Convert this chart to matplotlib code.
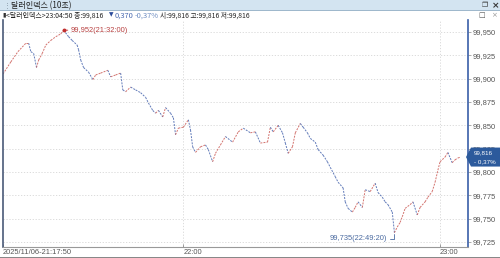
import matplotlib
matplotlib.use("Agg")
import matplotlib.pyplot as plt
from matplotlib.patches import Rectangle, Polygon
import pandas as pd

plt.rcParams['font.family'] = ['Noto Sans CJK KR', 'DejaVu Sans']

# 10초 달러인덱스 (읽어낸 주요 지점)
times = ["21:17:50", "21:19:40", "21:21:20", "21:23:10", "21:23:50", "21:24:20", "21:25:00",
         "21:25:40", "21:26:10", "21:27:00", "21:27:50", "21:29:00", "21:30:10", "21:31:20",
         "21:32:00", "21:33:10", "21:34:00", "21:35:10", "21:35:30", "21:36:00", "21:36:40",
         "21:37:50", "21:38:50", "21:39:30", "21:40:40", "21:42:20", "21:43:00", "21:44:10",
         "21:45:20", "21:45:50", "21:46:30", "21:47:40", "21:48:50", "21:50:00", "21:51:10",
         "21:51:50", "21:52:50", "21:53:30", "21:54:10", "21:55:10", "21:55:50", "21:57:00",
         "21:57:40", "21:58:10", "21:58:50", "22:00:00", "22:01:10", "22:01:40", "22:02:10",
         "22:02:50", "22:04:00", "22:05:10", "22:05:50", "22:06:50", "22:07:30", "22:08:40",
         "22:09:50", "22:11:30", "22:12:50", "22:14:00", "22:15:40", "22:16:50", "22:18:00",
         "22:19:40", "22:20:20", "22:21:00", "22:22:10", "22:23:10", "22:23:50", "22:24:30",
         "22:25:30", "22:26:10", "22:27:20", "22:28:00", "22:29:00", "22:29:40", "22:30:50",
         "22:31:30", "22:32:40", "22:33:40", "22:34:20", "22:35:30", "22:36:10", "22:37:20",
         "22:37:50", "22:38:30", "22:39:30", "22:40:10", "22:40:50", "22:41:50", "22:42:30",
         "22:43:40", "22:44:50", "22:45:30", "22:46:30", "22:47:10", "22:47:50", "22:48:50",
         "22:49:20", "22:50:00", "22:50:40", "22:51:10", "22:51:50", "22:53:00", "22:53:40",
         "22:54:40", "22:55:20", "22:56:30", "22:57:10", "22:58:10", "22:58:50", "22:59:30",
         "23:00:00", "23:01:10", "23:01:50", "23:02:50", "23:03:30", "23:04:10", "23:04:50"]
prices = [99.905, 99.918, 99.929, 99.938, 99.938, 99.929, 99.927,
          99.912, 99.920, 99.927, 99.936, 99.941, 99.945, 99.948,
          99.952, 99.945, 99.941, 99.936, 99.931, 99.920, 99.912,
          99.907, 99.899, 99.904, 99.906, 99.909, 99.902, 99.904,
          99.906, 99.888, 99.886, 99.891, 99.888, 99.885, 99.880,
          99.874, 99.866, 99.863, 99.866, 99.859, 99.869, 99.863,
          99.858, 99.840, 99.847, 99.848, 99.856, 99.845, 99.827,
          99.821, 99.827, 99.829, 99.824, 99.811, 99.820, 99.829,
          99.838, 99.832, 99.843, 99.847, 99.842, 99.843, 99.831,
          99.832, 99.848, 99.843, 99.850, 99.842, 99.831, 99.820,
          99.827, 99.842, 99.852, 99.848, 99.842, 99.836, 99.832,
          99.824, 99.818, 99.811, 99.805, 99.795, 99.789, 99.783,
          99.768, 99.761, 99.757, 99.762, 99.768, 99.762, 99.781,
          99.779, 99.788, 99.778, 99.773, 99.768, 99.765, 99.757,
          99.735, 99.741, 99.746, 99.752, 99.761, 99.765, 99.768,
          99.754, 99.762, 99.768, 99.773, 99.779, 99.789, 99.802,
          99.811, 99.816, 99.821, 99.810, 99.813, 99.815, 99.816]

y_ticks = [99.725, 99.750, 99.775, 99.800, 99.825, 99.850, 99.875, 99.900, 99.925, 99.950]
x_tick_times = ["21:17:50", "22:00:00", "23:00:00"]
x_tick_labels = ["2025/11/06-21:17:50", "22:00", "23:00"]

hi_time, hi_price = "21:32:00", 99.952
lo_time, lo_price = "22:49:20", 99.735
last_price, last_pct = 99.816, -0.37

NUMFONT = ["Liberation Sans", "DejaVu Sans"]


def to_min(s):
    t = pd.to_timedelta(s) - pd.to_timedelta("21:17:50")
    return t.total_seconds() / 60.0


def kfmt(v):
    return f"{v:,.3f}".replace(".", ",")


W, H = 500, 258
fig = plt.figure(figsize=(W / 100, H / 100), dpi=100)
fig.patch.set_facecolor("white")


def fx(px):
    return px / W


def fy(py):
    return 1 - py / H


# 제목줄
fig.patches.append(Rectangle((0, fy(10.5)), 1, 10.5 / H, transform=fig.transFigure,
                             facecolor="#d3e4f1", edgecolor="none"))
fig.patches.append(Rectangle((0, fy(11)), 1, 0.6 / H, transform=fig.transFigure,
                             facecolor="#9fb8cc", edgecolor="none"))
fig.text(fx(4), fy(5.3), "⋮", fontsize=5, color="#7a8a99", va="center")
fig.text(fx(11), fy(5.3), "달러인덱스 (10초)", fontsize=5.8, color="#222222", va="center")
fig.text(fx(482), fy(5.3), "❐", fontsize=5, color="#333333", va="center", family="DejaVu Sans")
fig.text(fx(492), fy(5.3), "×", fontsize=6.5, color="#333333", va="center", weight="bold",
         family="DejaVu Sans")

# 정보줄: 조각들을 이어서 배치
info_y = fy(15.3)
renderer = fig.canvas.get_renderer()
pieces = [("<달러인덱스>23:04:50 종:99,816", "#222222", 6),
          ("0,370", "#4a6ab0", 115),
          ("-0,37%", "#6a8ac0", 135), ("시:99,816 고:99,816 저:99,816", "#222222", 160)]
targets = {0: 104, 3: 250}
for i, (s, c, x0) in enumerate(pieces):
    t = fig.text(fx(x0), info_y, s, fontsize=5.4, color=c, va="center")
    if i in targets:
        w = t.get_window_extent(renderer).width
        t.set_fontsize(5.4 * min(1.0, (targets[i] - x0) / w))
fig.text(fx(2), info_y, "▮", fontsize=4.5, color="#333333", va="center", family="DejaVu Sans")
fig.text(fx(109), fy(15.0), "▼", fontsize=4.2, color="#2a4a9a", va="center",
         family="DejaVu Sans")
fig.text(fx(478), info_y, "□", fontsize=5, color="#555555", va="center", family="DejaVu Sans")
fig.text(fx(491), info_y, "×", fontsize=5, color="#999999", va="center", family="DejaVu Sans")

# 차트 영역
ax = fig.add_axes([fx(3), 1 - 247 / H, fx(468) - fx(3), (247 - 20) / H])
tm = [to_min(s) for s in times]
ax.set_xlim(0.14, 108.7)
ax.set_ylim(99.7196, 99.9629)

for i in range(1, len(tm)):
    up = prices[i] >= prices[i - 1]
    ax.plot([tm[i - 1], tm[i]], [prices[i - 1], prices[i]],
            color="#c8504a" if up else "#3a5aa8", lw=0.7, alpha=0.8,
            ls=(0, (2.0, 1.2)), solid_capstyle="butt")

for v in y_ticks:
    ax.axhline(v, color="#d6d6d6", lw=0.6, ls=(0, (1.5, 2)), zorder=0)
for s in x_tick_times[1:]:
    ax.axvline(to_min(s), color="#d6d6d6", lw=0.6, ls=(0, (1.5, 2)), zorder=0)

ax.yaxis.tick_right()
ax.set_yticks(y_ticks)
ax.set_yticklabels([kfmt(v) for v in y_ticks], fontsize=5.4, color="#555555", family=NUMFONT)
ax.tick_params(axis="y", length=2, pad=1.5, color="#888888", width=0.5)
ax.set_xticks([to_min(s) for s in x_tick_times])
ax.set_xticklabels(x_tick_labels, fontsize=5.4, color="#555555", ha="left", family=NUMFONT)
ax.tick_params(axis="x", length=2.5, pad=1.5, direction="in", color="#777777", width=0.5)

ax.spines["top"].set_visible(False)
ax.spines["left"].set_color("#4a5a78")
ax.spines["left"].set_linewidth(1.2)
ax.spines["right"].set_color("#3a5fa8")
ax.spines["right"].set_linewidth(1.2)
ax.spines["bottom"].set_color("#999999")
ax.spines["bottom"].set_linewidth(0.8)

# 고가/저가 표시
ht = to_min(hi_time)
ax.plot(ht, hi_price, "o", ms=1.8, color="#c03030", zorder=5)
ax.annotate(f"{kfmt(hi_price)}({hi_time})", xy=(ht, hi_price), xytext=(5, 0),
            textcoords="offset points", fontsize=5.4, color="#b84040", va="center",
            family=NUMFONT,
            arrowprops=dict(arrowstyle="-", color="#c03030", lw=0.6, shrinkA=0, shrinkB=0))
lt = to_min(lo_time)
ax.annotate(f"{kfmt(lo_price)}({lo_time})", xy=(lt, lo_price - 0.002), xytext=(-5, -3),
            textcoords="offset points", fontsize=5.4, color="#4a6aa0", va="center", ha="right",
            family=NUMFONT,
            arrowprops=dict(arrowstyle="-", color="#4a6aa0", lw=0.6, shrinkA=0, shrinkB=0,
                            connectionstyle="angle,angleA=0,angleB=90,rad=0"))

# 하단 경계선
fig.patches.append(Rectangle((0, fy(257.5)), 1, 0.8 / H, transform=fig.transFigure,
                             facecolor="#888888", edgecolor="none"))

# 현재가 박스
ypix = 247 - (last_price - 99.7196) / (99.9629 - 99.7196) * 227
box = Polygon([(fx(466), fy(ypix)), (fx(471), fy(ypix - 9.5)), (fx(500), fy(ypix - 9.5)),
               (fx(500), fy(ypix + 9.5)), (fx(471), fy(ypix + 9.5))],
              closed=True, transform=fig.transFigure, facecolor="#2c5a9c", edgecolor="none")
fig.patches.append(box)
fig.text(fx(474), fy(ypix - 4.2), kfmt(last_price), fontsize=4.5, color="white", va="center",
         family=NUMFONT)
fig.text(fx(474), fy(ypix + 4.4), f"{last_pct:.2f}%".replace(".", ",").replace("-", "- "),
         fontsize=4.5, color="white", va="center", family=NUMFONT)

fig.savefig("out.png", dpi=100)
